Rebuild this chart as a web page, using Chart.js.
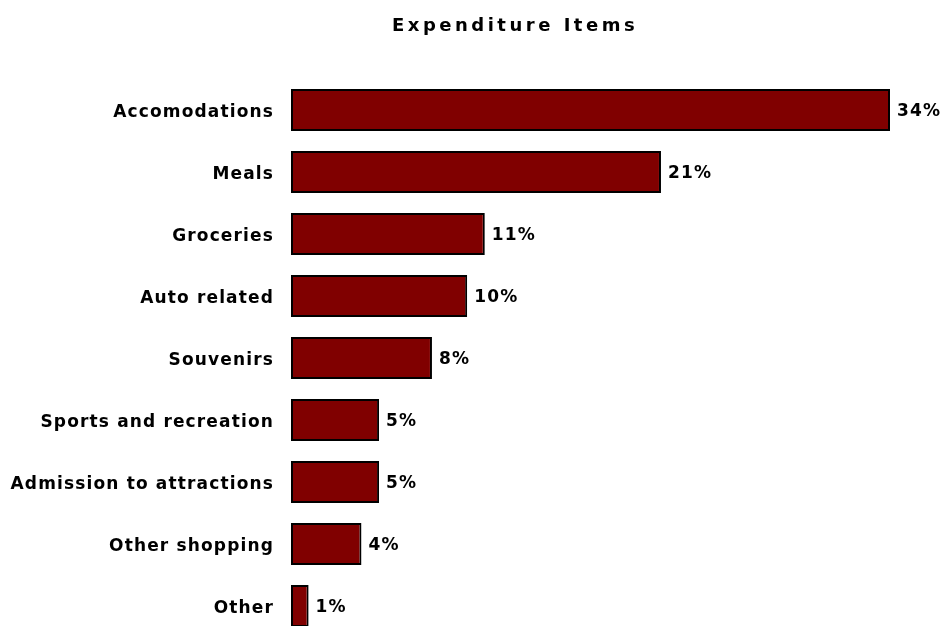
<!DOCTYPE html>
<html>
<head>
<meta charset="utf-8">
<script src="https://cdn.jsdelivr.net/npm/chart.js@4"></script>
<style>
    html, body { margin: 0; padding: 0; background: #fff; overflow: hidden; }
    canvas { display: block; }
</style>
</head>
<body>
<canvas id="expChart" width="948" height="637"></canvas>
<script>
const chartTitle = 'Expenditure Items';
const categories = ['Accomodations', 'Meals', 'Groceries', 'Auto related', 'Souvenirs',
    'Sports and recreation', 'Admission to attractions', 'Other shopping', 'Other'];
const shares = [34, 21, 11, 10, 8, 5, 5, 4, 1];

const fontFamily = '"DejaVu Sans", Verdana, sans-serif';
const labelFont = { family: fontFamily, size: 17, weight: 'bold' };

// spread letters a bit, like the reference's bold face
const spacing = {
    id: 'spacing',
    beforeDraw(chart) {
        chart.ctx.letterSpacing = '1.15px';
    }
};

// value labels at the end of each bar
const valueLabels = {
    id: 'valueLabels',
    afterDatasetsDraw(chart) {
        const ctx = chart.ctx;
        const meta = chart.getDatasetMeta(0);
        ctx.save();
        ctx.font = 'bold 17px ' + fontFamily;
        ctx.letterSpacing = '1.15px';
        ctx.fillStyle = '#000';
        ctx.textAlign = 'left';
        ctx.textBaseline = 'middle';
        meta.data.forEach((bar, i) => {
            ctx.fillText(shares[i] + '%', bar.x + 7, bar.y + 2);
        });
        ctx.restore();
    }
};

// title, drawn where the reference has it
const titlePlugin = {
    id: 'titlePlugin',
    afterDraw(chart) {
        const ctx = chart.ctx;
        ctx.save();
        ctx.font = 'bold 18px ' + fontFamily;
        ctx.letterSpacing = '3.5px';
        ctx.fillStyle = '#000';
        ctx.textAlign = 'left';
        ctx.textBaseline = 'middle';
        ctx.fillText(chartTitle, 392, 26);
        ctx.restore();
    }
};

new Chart(document.getElementById('expChart'), {
    type: 'bar',
    data: {
        labels: categories,
        datasets: [{
            data: shares,
            backgroundColor: '#800000',
            borderColor: '#000000',
            borderWidth: 2,
            borderSkipped: false,
            categoryPercentage: 1,
            barPercentage: 0.68
        }]
    },
    options: {
        indexAxis: 'y',
        responsive: false,
        animation: false,
        layout: { padding: { top: 79, right: 58, bottom: 0, left: 0 } },
        plugins: {
            legend: { display: false },
            title: { display: false },
            tooltip: { enabled: false }
        },
        scales: {
            x: {
                display: false,
                min: 0,
                max: 34
            },
            y: {
                grid: { display: false, drawTicks: false },
                border: { display: false },
                ticks: { color: '#000', font: labelFont, padding: 17, labelOffset: 3 },
                afterFit(scale) {
                    scale.width = 291;
                    scale.paddingTop = 0;
                    scale.paddingBottom = 0;
                }
            }
        }
    },
    plugins: [spacing, valueLabels, titlePlugin]
});
</script>
</body>
</html>
